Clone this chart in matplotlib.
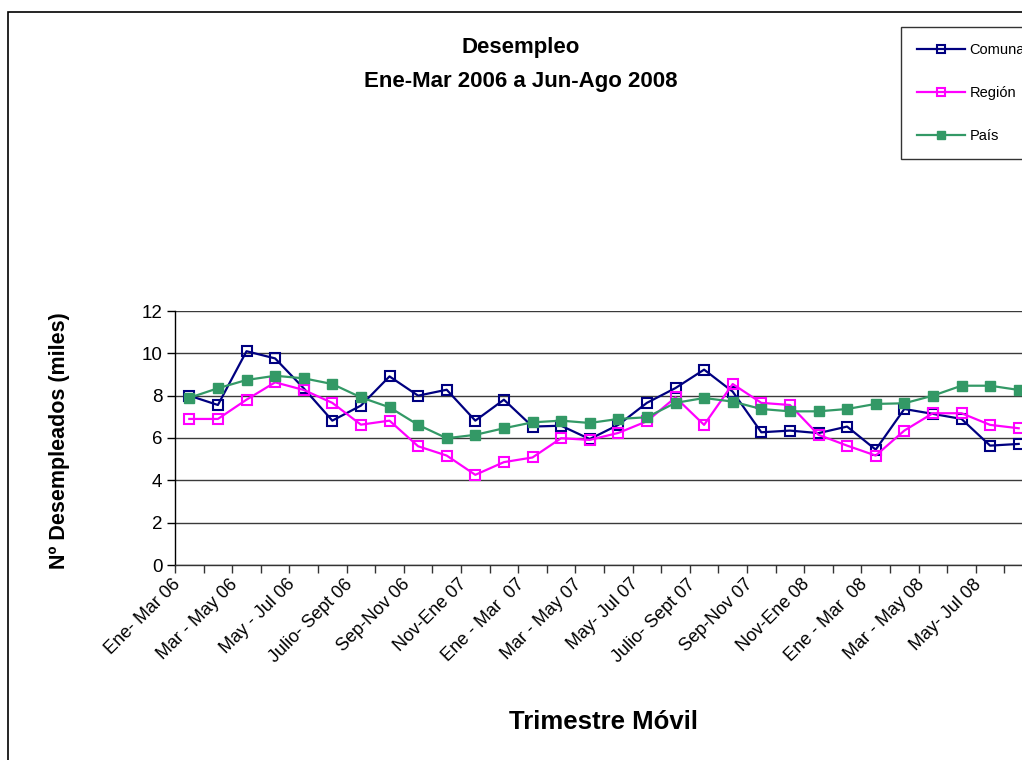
import matplotlib
matplotlib.use("Agg")
import matplotlib.pyplot as plt
from matplotlib.patches import Rectangle
from matplotlib.transforms import ScaledTranslation
import numpy as np

plt.rcParams['font.family'] = ['Liberation Sans', 'DejaVu Sans']

periods = ["Ene- Mar 06", "Feb-Abr 06", "Mar - May 06", "Abr-Jun 06", "May - Jul 06", "Jun-Ago 06",
           "Julio- Sept 06", "Ago-Oct 06", "Sep-Nov 06", "Oct-Dic 06", "Nov-Ene 07", "Dic-Feb 07",
           "Ene - Mar  07", "Feb-Abr 07", "Mar - May 07", "Abr-Jun 07", "May- Jul 07", "Jun-Ago 07",
           "Julio- Sept 07", "Ago-Oct 07", "Sep-Nov 07", "Oct-Dic 07", "Nov-Ene 08", "Dic-Feb 08",
           "Ene - Mar  08", "Feb-Abr 08", "Mar - May 08", "Abr-Jun 08", "May- Jul 08", "Jun-Ago 08"]

comuna = [8.0, 7.56, 10.1, 9.76, 8.35, 6.82, 7.53, 8.91, 8.0, 8.28,
          6.82, 7.81, 6.54, 6.58, 5.95, 6.62, 7.66, 8.36, 9.23, 8.19,
          6.27, 6.35, 6.23, 6.54, 5.45, 7.37, 7.14, 6.9, 5.64, 5.72]
region = [6.9, 6.9, 7.81, 8.63, 8.27, 7.66, 6.63, 6.82, 5.61, 5.17,
          4.26, 4.86, 5.08, 5.99, 5.91, 6.24, 6.79, 7.92, 6.62, 8.55,
          7.66, 7.56, 6.15, 5.64, 5.17, 6.35, 7.17, 7.17, 6.62, 6.46]
pais = [7.9, 8.35, 8.74, 8.94, 8.82, 8.55, 7.92, 7.45, 6.62, 5.99,
        6.15, 6.46, 6.74, 6.82, 6.71, 6.9, 6.98, 7.66, 7.89, 7.72,
        7.37, 7.26, 7.26, 7.37, 7.61, 7.64, 8.0, 8.47, 8.47, 8.27]

W, H = 1022, 760
fig = plt.figure(figsize=(W / 100, H / 100), dpi=100)
fig.patch.set_facecolor('white')

# outer chart border (extends past the cropped right/bottom edges)
fig.add_artist(Rectangle((8 / W, -0.1), 1.2, 1.1 - 12 / H, transform=fig.transFigure,
                         fill=False, edgecolor='black', linewidth=1.2))

ax = fig.add_axes([175 / W, (H - 565) / H, 858 / W, 254 / H])
x = np.arange(len(periods))

ax.plot(x, comuna, color='#000080', lw=1.6, marker='s', ms=6.5, mfc='none',
        mec='#000080', mew=1.5, label='Comuna', zorder=3)
ax.plot(x, region, color='#FF00FF', lw=1.6, marker='s', ms=6.5, mfc='none',
        mec='#FF00FF', mew=1.5, label='Región', zorder=4)
ax.plot(x, pais, color='#339966', lw=1.6, marker='s', ms=7, mfc='#339966',
        mec='#339966', mew=1.0, label='País', zorder=5)

ax.set_xlim(-0.5, len(periods) - 0.5)
ax.set_ylim(0, 12)
ax.set_yticks(np.arange(0, 13, 2))
ax.yaxis.grid(True, color='#3a3a3a', lw=1.0)
ax.set_axisbelow(True)

for s in ['top', 'right']:
    ax.spines[s].set_visible(False)
ax.spines['left'].set_color('black')
ax.spines['left'].set_linewidth(1.0)
ax.spines['bottom'].set_color('#333333')
ax.spines['bottom'].set_linewidth(1.0)

ax.tick_params(axis='y', direction='out', length=6, width=1, pad=3, labelsize=13.5, colors='black')
# major ticks at category boundaries, labels on every other category
ax.set_xticks(np.arange(-0.5, len(periods), 1.0))
ax.set_xticklabels([])
ax.tick_params(axis='x', which='major', direction='out', length=6, width=1, color='#333333')
lab_pos = x[::2]
ax.set_xticks(lab_pos, minor=True)
ax.set_xticklabels([periods[i] for i in lab_pos], minor=True, rotation=45,
                   ha='right', va='center', rotation_mode='anchor', fontsize=13)
ax.tick_params(axis='x', which='minor', length=0, pad=12)
off = ScaledTranslation(-11 / 100, 0, fig.dpi_scale_trans)
for lbl in ax.get_xticklabels(minor=True):
    lbl.set_transform(lbl.get_transform() + off)

fig.text(60 / W, 1 - 441 / H, 'Nº Desempleados (miles)', fontsize=15.5, fontweight='bold',
         rotation=90, ha='center', va='center')
fig.text(603 / W, 1 - 722 / H, 'Trimestre Móvil', fontsize=18.5, fontweight='bold',
         ha='center', va='center')
fig.text(521 / W, 1 - 47 / H, 'Desempleo', fontsize=16, fontweight='bold', ha='center', va='center')
fig.text(521 / W, 1 - 81 / H, 'Ene-Mar 2006 a Jun-Ago 2008', fontsize=16, fontweight='bold',
         ha='center', va='center')

leg = fig.legend(loc='upper left', bbox_to_anchor=(901 / W, 1 - 27 / H), fontsize=10.5,
                 frameon=True, fancybox=False, edgecolor='black', borderpad=1.1,
                 labelspacing=2.0, handlelength=3.3, handletextpad=0.3, markerscale=0.8,
                 borderaxespad=0)
leg.get_frame().set_linewidth(1.0)

fig.savefig('out.png', dpi=100)
